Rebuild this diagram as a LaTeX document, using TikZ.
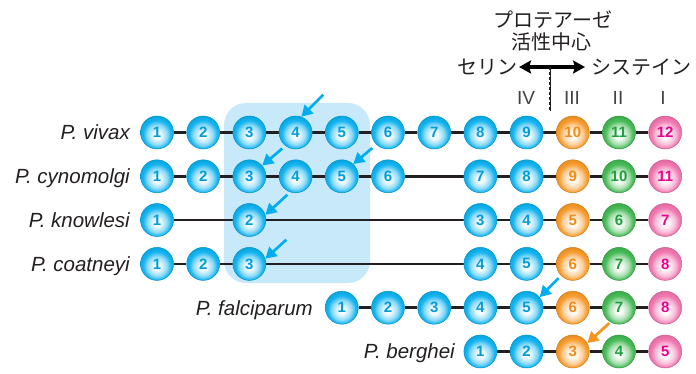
\documentclass[tikz,border=0pt]{standalone}
\usepackage{fontspec}
\setmainfont{Liberation Sans}
\newfontfamily\jpfont{Noto Sans CJK JP}
\usetikzlibrary{arrows.meta,calc,backgrounds}

% palette
\definecolor{bcol}{RGB}{0,174,239}
\definecolor{btxt}{RGB}{0,156,220}
\definecolor{ocol}{RGB}{247,148,30}
\definecolor{otxt}{RGB}{242,138,22}
\definecolor{gcol}{RGB}{57,181,74}
\definecolor{gtxt}{RGB}{30,160,60}
\definecolor{pcol}{RGB}{240,110,170}
\definecolor{ptxt}{RGB}{236,0,140}
\definecolor{boxcol}{RGB}{199,233,249}
\definecolor{ink}{RGB}{35,31,32}

% sphere-like radial shading, light spot slightly below the centre
\newcommand\sphereshading[2]{%
  \pgfdeclareradialshading{#1}{\pgfpoint{0bp}{-5bp}}{%
    color(0bp)=(white); color(6bp)=(#2!8!white); color(15bp)=(#2!45!white);
    color(21bp)=(#2!90!white); color(29bp)=(#2!92!black); color(50bp)=(#2!92!black)}}
\sphereshading{bsph}{bcol}
\sphereshading{osph}{ocol}
\sphereshading{gsph}{gcol}
\sphereshading{psph}{pcol}

\tikzset{
  ball/.style={circle, minimum size=33pt, inner sep=0pt, line width=0.5pt,
    font=\bfseries\fontsize{15}{15}\selectfont, shade},
  bb/.style={ball, shading=bsph, draw=bcol!85!black, text=btxt},
  ob/.style={ball, shading=osph, draw=ocol!85!black, text=otxt},
  gb/.style={ball, shading=gsph, draw=gcol!85!black, text=gtxt},
  pb/.style={ball, shading=psph, draw=pcol!85!black, text=ptxt},
  link/.style={draw=ink, line width=2.8pt},
  lab/.style={anchor=base east, inner sep=0pt, text=ink,
    font=\itshape\fontsize{20.5}{24}\selectfont},
  jp/.style={inner sep=1pt, text=ink, font=\jpfont\fontsize{20}{24}\selectfont},
  roman/.style={inner sep=0pt, text=ink!85, font=\fontsize{19}{19}\selectfont},
  ptr/.style={line width=2.7pt, -{Triangle[length=11pt,width=12pt]}},
  dbl/.style={draw=black, line width=4pt,
    {Stealth[length=12pt,width=13pt,inset=2pt]}-{Stealth[length=12pt,width=13pt,inset=2pt]}},
}

% a ball in column #3 (1..12) of the row at height #4
\newcommand\putball[5]{\node[#1] (#2) at ({157+46.2*(#3-1)},#4) {#5};}

\begin{document}
\begin{tikzpicture}[x=1pt,y=-1pt]
\useasboundingbox (0,0) rectangle (696,374);

% ---- P. vivax
\foreach \i in {1,...,9}{\putball{bb}{v\i}{\i}{132.5}{\i}}
\putball{ob}{v10}{10}{132.5}{10}
\putball{gb}{v11}{11}{132.5}{11}
\putball{pb}{v12}{12}{132.5}{12}

% ---- P. cynomolgi
\foreach \i in {1,...,6}{\putball{bb}{c\i}{\i}{176.3}{\i}}
\putball{bb}{c7}{8}{176.3}{7}
\putball{bb}{c8}{9}{176.3}{8}
\putball{ob}{c9}{10}{176.3}{9}
\putball{gb}{c10}{11}{176.3}{10}
\putball{pb}{c11}{12}{176.3}{11}

% ---- P. knowlesi
\putball{bb}{k1}{1}{220}{1}
\putball{bb}{k2}{3}{220}{2}
\putball{bb}{k3}{8}{220}{3}
\putball{bb}{k4}{9}{220}{4}
\putball{ob}{k5}{10}{220}{5}
\putball{gb}{k6}{11}{220}{6}
\putball{pb}{k7}{12}{220}{7}

% ---- P. coatneyi
\foreach \i in {1,...,3}{\putball{bb}{t\i}{\i}{263.9}{\i}}
\putball{bb}{t4}{8}{263.9}{4}
\putball{bb}{t5}{9}{263.9}{5}
\putball{ob}{t6}{10}{263.9}{6}
\putball{gb}{t7}{11}{263.9}{7}
\putball{pb}{t8}{12}{263.9}{8}

% ---- P. falciparum
\foreach \i in {1,...,5}{\putball{bb}{f\i}{\i+4}{307.7}{\i}}
\putball{ob}{f6}{10}{307.7}{6}
\putball{gb}{f7}{11}{307.7}{7}
\putball{pb}{f8}{12}{307.7}{8}

% ---- P. berghei
\putball{bb}{b1}{8}{351.5}{1}
\putball{bb}{b2}{9}{351.5}{2}
\putball{ob}{b3}{10}{351.5}{3}
\putball{gb}{b4}{11}{351.5}{4}
\putball{pb}{b5}{12}{351.5}{5}

% highlighted block and backbone links, behind the balls
\begin{scope}[on background layer]
  \fill[boxcol, rounded corners=22pt] (224,103) rectangle (370,283);
  \foreach \p/\n in {v/12, c/11, k/7, t/8, f/8, b/5}{
    \foreach \i [evaluate=\i as \j using int(\i+1)] in {1,...,\numexpr\n-1\relax}{
      \draw[link] (\p\i) -- (\p\j);
    }
  }
\end{scope}

% species names
\node[lab] (nv) at (130,139.8) {P. vivax};
\node[lab] (nc) at (130,183.6) {P. cynomolgi};
\node[lab] (nk) at (130,227.3) {P. knowlesi};
\node[lab] (nt) at (130,271.2) {P. coatneyi};
\node[lab] (nf) at (313,315.0) {P. falciparum};
\node[lab] (nb) at (455,358.8) {P. berghei};

% pointers
\coordinate (a1) at ($(v4.70)+(22,-22)$);
\draw[ptr, draw=bcol] (a1) -- (v4.70);
\coordinate (a2) at ($(c3.40)+(20,-17)$);
\draw[ptr, draw=bcol] (a2) -- (c3.40);
\coordinate (a3) at ($(c5.47)+(19,-16)$);
\draw[ptr, draw=bcol] (a3) -- (c5.47);
\coordinate (a4) at ($(k2.18)+(22,-20)$);
\draw[ptr, draw=bcol] (a4) -- (k2.18);
\coordinate (a5) at ($(t3.18)+(21,-19)$);
\draw[ptr, draw=bcol] (a5) -- (t3.18);
\coordinate (a6) at ($(f5.39)+(19,-19)$);
\draw[ptr, draw=bcol] (a6) -- (f5.39);
\coordinate (a7) at ($(b3.30)+(22,-20)$);
\draw[ptr, draw=ocol] (a7) -- (b3.30);

% protease active-site annotation
\node[jp] (prot) at (553,20) {プロテアーゼ};
\node[jp] (act) at (551,42) {活性中心};
\node[jp, anchor=east] (ser) at (519,67) {セリン};
\node[jp, anchor=west, inner xsep=6pt] (cys) at (585,67) {システイン};
\draw[dbl] (ser.east) -- (cys.west);
\coordinate (mid) at (550,67);
\coordinate (midend) at (550,111);
\draw[ink, line width=0.8pt] (mid) -- (midend);
\draw[ink, line width=2.6pt, dash pattern=on 3.5pt off 1.5pt] (mid) -- (midend);

% domain numerals
\node[roman] (d4) at (526,98) {IV};
\node[roman] (d3) at (572,98) {III};
\node[roman] (d2) at (618,98) {II};
\node[roman] (d1) at (663,98) {I};
\end{tikzpicture}
\end{document}
